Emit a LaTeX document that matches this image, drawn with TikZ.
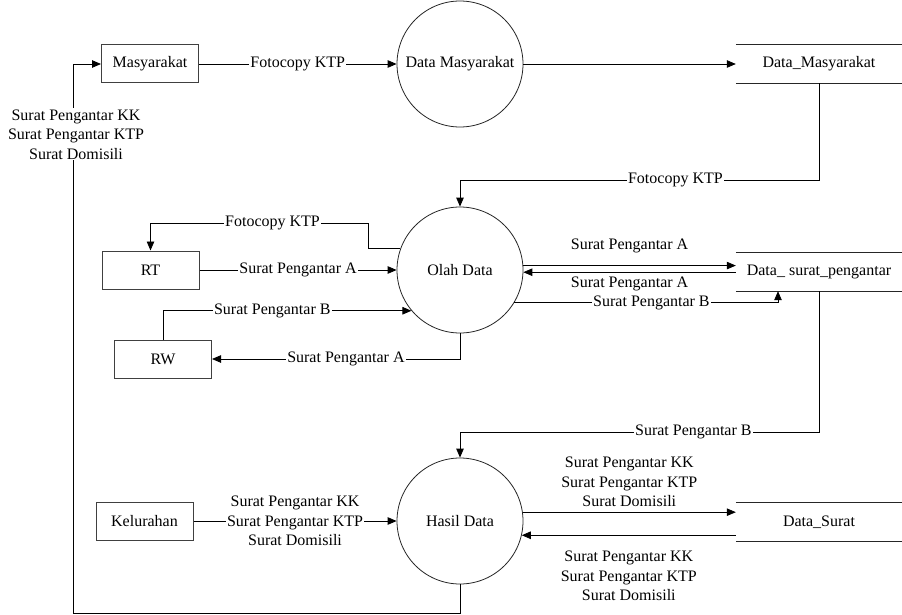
\documentclass[tikz,border=0pt]{standalone}
\usepackage{fontspec}
\setmainfont{Liberation Serif}
\usepackage{tikz}
\usetikzlibrary{arrows.meta,positioning,calc}

\begin{document}
\begin{tikzpicture}[
    x=1pt, y=-1pt,
    txt/.style={font=\fontsize{16}{19.5}\selectfont},
    entity/.style={rectangle, draw=black!75, line width=1pt, txt, minimum width=97pt, minimum height=38pt},
    proc/.style={circle, draw=black!85, line width=0.8pt, txt, minimum size=126pt, inner sep=0pt},
    store/.style={rectangle, txt, minimum width=166pt, minimum height=38pt},
    storeline/.style={draw=black!85, line width=1pt},
    arrow/.style={-{Triangle[length=9pt,width=7.5pt]}, line width=0.8pt, draw=black},
    lbl/.style={txt, fill=white, inner sep=1pt, align=center}
]
    \useasboundingbox (0,0) rectangle (902,615);

    % external entities
    \node [entity] (masy) at (150,64) {Masyarakat};
    \node [entity] (rt) at (150.5,270) {RT};
    \node [entity] (rw) at (163,359) {RW};
    \node [entity] (kel) at (144.5,521) {Kelurahan};

    % processes
    \node [proc] (dmasy) at (460,64) {Data Masyarakat};
    \node [proc] (olah) at (460,270) {Olah Data};
    \node [proc] (hasil) at (460,521) {Hasil Data};

    % data stores
    \node [store] (dm) at (819,64) {Data\_Masyarakat};
    \node [store] (dsp) at (819,272) {Data\_ surat\_pengantar};
    \node [store] (dsu) at (819,522) {Data\_Surat};
    \draw [storeline] (dm.north west) -- (dm.north east) (dm.south west) -- (dm.south east);
    \draw [storeline] (dsp.north west) -- (dsp.north east) (dsp.south west) -- (dsp.south east);
    \draw [storeline] (dsu.north west) -- (dsu.north east) (dsu.south west) -- (dsu.south east);

    % flows
    \draw [arrow] (masy) -- node[lbl]{Fotocopy KTP} (dmasy);
    \draw [arrow] (dmasy) -- (dm);
    \draw [arrow] (dm.south) -- ++(0,97) -| node[lbl,pos=0.2]{Fotocopy KTP} (olah.north);

    \draw [arrow] (olah.160.5) -- ++(-32,0) -- ++(0,-25) -| node[lbl,pos=0.22]{Fotocopy KTP} (rt.north);
    \draw [arrow] (rt) -- node[lbl]{Surat Pengantar A} (olah);
    \draw [arrow] (rw.north) |- node[lbl,pos=0.72]{Surat Pengantar B} (olah.220.6);
    \draw [arrow] (olah.south) |- node[lbl,pos=0.73]{Surat Pengantar A} (rw.east);

    \draw [arrow] (olah.4.5) -- node[lbl,yshift=20pt]{Surat Pengantar A} (olah.4.5 -| dsp.west);
    \draw [arrow] (olah.358.2 -| dsp.west) -- node[lbl,yshift=-12pt]{Surat Pengantar A} (olah.358.2);
    \draw [arrow] (olah.329.5) -| node[lbl,pos=0.26]{Surat Pengantar B} ([xshift=-41pt]dsp.south);
    \draw [arrow] (dsp.south) -- ++(0,141) -| node[lbl,pos=0.175]{Surat Pengantar B} (hasil.north);

    \draw [arrow] (kel) -- node[lbl]{Surat Pengantar KK\\Surat Pengantar KTP\\Surat Domisili} (hasil);
    \draw [arrow] (hasil.8.2) -- node[lbl,yshift=30pt]{Surat Pengantar KK\\Surat Pengantar KTP\\Surat Domisili} (hasil.8.2 -| dsu.west);
    \draw [arrow] (hasil.347.2 -| dsu.west) -- node[lbl,yshift=-41pt]{Surat Pengantar KK\\Surat Pengantar KTP\\Surat Domisili} (hasil.347.2);
    \draw [arrow] (hasil.south) -- ++(0,29) -| node[lbl,pos=0.936,xshift=3pt]{Surat Pengantar KK\\Surat Pengantar KTP\\Surat Domisili} ([xshift=-28pt]masy.west) -- (masy.west);
\end{tikzpicture}
\end{document}
